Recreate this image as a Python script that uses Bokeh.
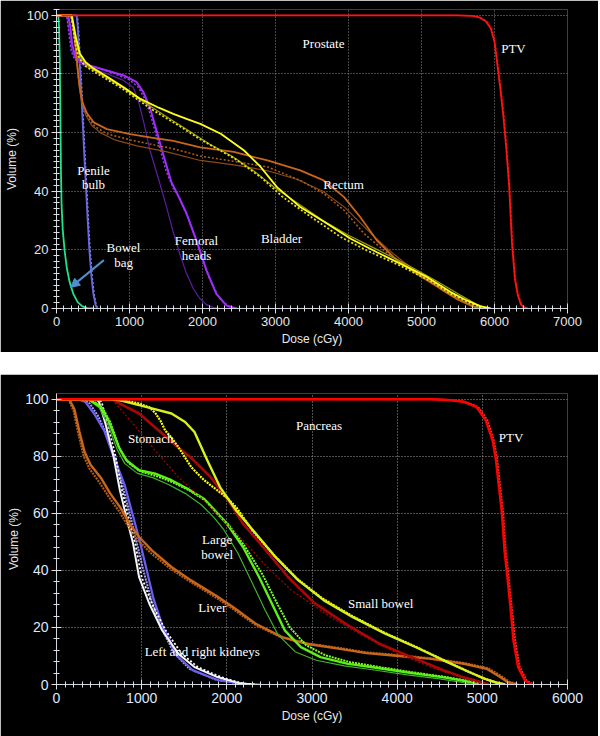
from bokeh.plotting import figure
from bokeh.layouts import column
from bokeh.models import Spacer, SingleIntervalTicker, Arrow, NormalHead, ColumnDataSource
from bokeh.core.properties import value
from bokeh.embed import file_html
from bokeh.resources import INLINE

# ---------------- Prostate plan: dose-volume histograms ----------------
prostate_x_ticks = [0, 1000, 2000, 3000, 4000, 5000, 6000, 7000]
volume_ticks = [0, 20, 40, 60, 80, 100]

bowel_bag_dose = [0, 25, 35, 45, 55, 62, 70, 85, 110, 140, 180, 230, 290, 350, 420, 520]
bowel_bag_vol = [100, 100, 96, 85, 62, 45, 35, 27, 20, 14, 9, 5, 2.2, 0.8, 0.1, 0]

penile_dose = [0, 275, 290, 308, 330, 352, 375, 400, 425, 450, 478, 505, 535, 558]
penile_vol = [100, 100, 96, 88, 78, 67, 55, 43, 31, 20, 11, 5, 1.2, 0]
penile_alt_dose = [0, 285, 300, 318, 340, 362, 385, 410, 435, 460, 488, 515, 543, 565]
penile_alt_vol = [100, 100, 96, 88, 78, 67, 55, 43, 31, 20, 11, 5, 1.2, 0]

femoral_a_dose = [0, 160, 190, 215, 260, 370, 690, 920, 1100, 1190, 1280, 1370, 1460, 1575, 1645, 1780, 1920, 2055, 2190, 2330, 2460]
femoral_a_vol = [100, 100, 96, 90, 85.7, 83.5, 81.2, 79.5, 77.2, 73.8, 68.6, 60.7, 52.7, 43, 39.6, 32.5, 23, 13, 5, 1, 0]
femoral_b_dose = [0, 140, 170, 200, 245, 320, 500, 750, 1000, 1120, 1220, 1300, 1400, 1500, 1600, 1680, 1800, 1940, 2080, 2220, 2360, 2480]
femoral_b_vol = [100, 100, 94, 88, 85, 84, 82.5, 80.5, 78, 75.5, 71, 65, 56, 47, 41, 38, 31, 21.5, 11, 3.8, 0.6, 0]
femoral_c_dose = [0, 140, 170, 210, 270, 400, 650, 900, 1050, 1120, 1200, 1280, 1400, 1510, 1600, 1690, 1780, 1870, 1960, 2050, 2150, 2250]
femoral_c_vol = [100, 100, 95, 88, 84.5, 82.5, 80.5, 78, 75.5, 71, 63, 54, 44, 34.4, 26, 18.5, 12, 7, 3.5, 1.4, 0.3, 0]

rectum_a_dose = [0, 200, 230, 260, 290, 320, 360, 420, 510, 690, 1010, 1300, 1600, 1970, 2430, 2890, 3340, 3660, 3940, 4160, 4390, 4620, 4940, 5260, 5500, 5700, 5800]
rectum_a_vol = [100, 100, 96, 90, 82, 75, 70, 66.5, 63.5, 61.2, 59.5, 58.3, 57.2, 55, 53.4, 50.5, 47.1, 43.7, 38, 31.2, 23.2, 17.5, 11.8, 6.7, 3, 0.8, 0]
rectum_b_dose = [0, 205, 235, 265, 295, 330, 380, 450, 530, 700, 1010, 1300, 1600, 1970, 2430, 2890, 3340, 3660, 3940, 4210, 4480, 4800, 5170, 5450, 5650, 5780]
rectum_b_vol = [100, 100, 95, 88, 80, 73, 68, 64.5, 62, 59.5, 57.5, 56, 54.5, 52, 50.2, 48.3, 43.7, 39.2, 33.5, 25.6, 19.9, 14.2, 8.5, 4, 1.2, 0]
rectum_c_dose = [0, 210, 240, 270, 300, 340, 400, 480, 600, 800, 1100, 1500, 1970, 2430, 2890, 3300, 3650, 3950, 4250, 4550, 4850, 5150, 5450, 5650, 5800]
rectum_c_vol = [100, 100, 94, 86, 78, 71, 66, 62.5, 60, 57.5, 55.5, 53.5, 50.5, 49, 47, 44, 40, 34.5, 27, 20, 14, 9, 4.2, 1.5, 0]

bladder_a_dose = [0, 210, 240, 270, 320, 400, 500, 700, 920, 1150, 1400, 1600, 1800, 1970, 2250, 2570, 2800, 3020, 3340, 3710, 4030, 4390, 4710, 5080, 5400, 5600, 5800, 5950]
bladder_a_vol = [100, 100, 96, 92, 87, 84, 82, 79, 75.5, 71.5, 68.5, 66.4, 64.5, 63, 59.6, 53.9, 48.2, 41.4, 34.6, 28.9, 23.8, 19.2, 15.3, 10.7, 5.6, 3, 0.8, 0]
bladder_b_dose = [0, 200, 230, 260, 300, 380, 500, 700, 900, 1100, 1300, 1500, 1700, 1950, 2200, 2450, 2800, 3100, 3500, 3900, 4250, 4700, 5150, 5400, 5650, 5850]
bladder_b_vol = [100, 100, 95, 90, 86, 83, 81, 78, 75, 71.5, 68, 65, 62, 58, 54.5, 51, 44.8, 38, 31, 24.3, 19.8, 14.7, 9, 5, 2, 0]
bladder_c_dose = [0, 205, 235, 265, 310, 390, 500, 700, 900, 1100, 1350, 1600, 1850, 2100, 2400, 2700, 3000, 3300, 3650, 4000, 4400, 4800, 5200, 5500, 5750, 5900]
bladder_c_vol = [100, 100, 95.5, 91, 86.5, 83.5, 81.5, 78.5, 75.5, 72, 68, 64, 60, 56, 52, 47, 41, 36, 30, 25, 20, 15, 9.5, 5, 1.5, 0]

ptv_p_dose = [0, 5500, 5700, 5800, 5880, 5950, 6000, 6040, 6080, 6120, 6160, 6200, 6240, 6280, 6320, 6360, 6400, 6450]
ptv_p_vol = [100, 100, 99.8, 99.2, 98, 95.5, 91, 83, 75, 66, 55, 42, 22, 10, 4.5, 1.5, 0.4, 0]
ptv_p_alt_dose = [0, 5500, 5720, 5820, 5900, 5960, 6010, 6050, 6090, 6130, 6170, 6210, 6250, 6290, 6330, 6370, 6410, 6470]
ptv_p_alt_vol = [100, 100, 99.8, 99.2, 98, 95.5, 91, 83, 75, 66, 55, 42, 22, 10, 4.5, 1.5, 0.4, 0]

# ---------------- Pancreas plan: dose-volume histograms ----------------
pancreas_x_ticks = [0, 1000, 2000, 3000, 4000, 5000, 6000]

kidney_a_dose = [0, 250, 340, 440, 560, 670, 800, 890, 980, 1060, 1140, 1250, 1420, 1600, 1900, 2200, 2400]
kidney_a_vol = [100, 100, 99, 95, 89, 80, 70, 60, 50, 40, 30, 20, 10, 5, 1.5, 0.2, 0]
kidney_b_dose = [0, 300, 390, 490, 600, 700, 790, 860, 940, 1020, 1110, 1220, 1380, 1560, 1860, 2150, 2350]
kidney_b_vol = [100, 100, 98.5, 94, 87, 78, 68, 60, 50, 40, 30, 20.5, 11, 5.5, 1.8, 0.3, 0]
kidney_c_dose = [0, 470, 500, 575, 670, 745, 820, 900, 970, 1090, 1240, 1430, 1620, 1890, 2150, 2300]
kidney_c_vol = [100, 100, 99, 91.4, 79.8, 68, 58.7, 49.3, 37.6, 28.3, 19, 10.8, 6.1, 2.6, 0.4, 0]
kidney_d_dose = [0, 500, 530, 600, 695, 770, 845, 925, 1000, 1120, 1280, 1470, 1660, 1930, 2180, 2330]
kidney_d_vol = [100, 100, 99, 91.4, 79.8, 68, 58.7, 49.3, 37.6, 28.3, 19, 10.8, 6.1, 2.6, 0.4, 0]

liver_a_dose = [0, 150, 210, 270, 330, 400, 520, 630, 750, 860, 970, 1120, 1350, 1580, 1880, 2080, 2340, 2650, 2950, 3330, 3640, 4020, 4400, 4800, 5050, 5200, 5300, 5400]
liver_a_vol = [100, 100, 96.5, 88.5, 81.5, 77, 72.5, 67, 62, 56.3, 51.7, 47, 41.2, 36.5, 31, 27, 21.3, 16.6, 14.2, 12.5, 11, 10, 9, 7.2, 5.5, 2.8, 0.8, 0]
liver_b_dose = [0, 140, 200, 260, 320, 390, 500, 620, 740, 850, 960, 1110, 1340, 1570, 1870, 2070, 2330, 2640, 2940, 3320, 3630, 4010, 4390, 4790, 5060, 5220, 5320, 5420]
liver_b_vol = [100, 100, 96, 87.5, 80, 75.5, 71, 65.5, 60.5, 55, 50.5, 46, 40.5, 36, 30.5, 26.5, 21, 16.5, 14.4, 12.8, 11.3, 10.3, 9.2, 7.5, 5.8, 3, 0.9, 0]

large_bowel_a_dose = [0, 350, 400, 520, 610, 670, 730, 820, 970, 1160, 1350, 1540, 1735, 1890, 2000, 2190, 2380, 2530, 2680, 2870, 3100, 3410, 3790, 4170, 4550, 4780, 4930, 5000]
large_bowel_a_vol = [100, 100, 99.5, 97.3, 92.6, 88, 83.3, 78.6, 75.1, 73.9, 71.6, 68.6, 65, 60, 56.4, 48.2, 37.6, 28.3, 19, 13.1, 9.6, 7.3, 5.7, 4, 2.5, 1.3, 0.4, 0]
large_bowel_b_dose = [0, 370, 430, 540, 630, 690, 750, 850, 1000, 1180, 1370, 1560, 1750, 1900, 2020, 2210, 2420, 2580, 2740, 2930, 3160, 3450, 3820, 4200, 4580, 4820, 4960, 5050]
large_bowel_b_vol = [100, 100, 99.5, 97, 92, 87, 82, 77.5, 74.5, 73, 70.8, 68, 64.5, 59.5, 56, 48.5, 38.5, 29, 20, 13.8, 10.2, 7.8, 6, 4.2, 2.6, 1.4, 0.5, 0]
large_bowel_c_dose = [0, 340, 390, 500, 590, 650, 710, 800, 950, 1130, 1320, 1510, 1700, 1850, 1960, 2130, 2300, 2450, 2600, 2800, 3050, 3380, 3750, 4120, 4500, 4750, 4900]
large_bowel_c_vol = [100, 100, 99.5, 97, 92, 87.5, 82.5, 77.5, 74, 72.5, 70, 67, 63, 58.5, 54.5, 46, 35.5, 26, 17.5, 11.5, 8.5, 6.5, 5, 3.4, 2, 0.8, 0]

stomach_a_dose = [0, 650, 710, 970, 1200, 1430, 1580, 1810, 2040, 2190, 2460, 2720, 3030, 3410, 3790, 4170, 4550, 4780, 4930, 5080]
stomach_a_vol = [100, 100, 99, 95, 89, 83, 79.5, 72.7, 63.5, 56.4, 47, 37.6, 28.5, 21, 14.3, 9.6, 4.9, 2.5, 1.3, 0]
stomach_b_dose = [0, 650, 900, 1160, 1430, 1730, 1960, 2190, 2480, 2760, 3220, 3600, 4000, 4400, 4750, 5000]
stomach_b_vol = [100, 100, 91.4, 82, 72.7, 64.5, 57.5, 50.5, 41, 33, 23.6, 17, 11, 6, 2.5, 0]

small_bowel_a_dose = [0, 650, 750, 1050, 1350, 1510, 1620, 1770, 1920, 2110, 2340, 2570, 2840, 3140, 3480, 3860, 4240, 4550, 4850, 5040, 5160, 5270]
small_bowel_a_vol = [100, 100, 99.6, 97.3, 95, 92, 88.5, 78.6, 69.2, 61, 52.9, 44.7, 36.5, 29.5, 23.6, 17.8, 12.8, 8.4, 4.3, 1.9, 0.7, 0]
small_bowel_b_dose = [0, 600, 800, 970, 1100, 1163, 1220, 1277, 1350, 1429, 1500, 1582, 1660, 1734, 1886, 2000, 2114, 2300, 2550, 2820, 3120, 3460, 3840, 4220, 4530, 4830, 5020, 5150, 5260]
small_bowel_b_vol = [100, 100, 99.5, 98.5, 97, 95, 92.5, 89, 86.5, 83.3, 80, 76.2, 73.8, 71.6, 68.1, 65.5, 62, 54, 45.5, 37.2, 30.2, 24.2, 18.3, 13.2, 8.8, 4.6, 2.1, 0.8, 0]

ptv_q_dose = [0, 4400, 4600, 4780, 4930, 5040, 5120, 5160, 5195, 5230, 5260, 5290, 5330, 5365, 5420, 5500, 5580]
ptv_q_vol = [100, 100, 99.7, 99.1, 97.3, 92.6, 85.6, 78.6, 69.2, 60, 47, 38.8, 27.1, 15.4, 6.1, 1.4, 0]
ptv_q_alt_dose = [0, 4420, 4620, 4800, 4950, 5060, 5135, 5175, 5210, 5245, 5275, 5305, 5345, 5385, 5440, 5520, 5600]
ptv_q_alt_vol = [100, 100, 99.7, 99.1, 97.3, 92.6, 85.6, 78.6, 69.2, 60, 47, 38.8, 27.1, 15.4, 6.1, 1.4, 0]

# Structure labels
prostate_labels = ["Prostate", "PTV", "Penile", "bulb", "Bowel", "bag", "Femoral", "heads", "Bladder", "Rectum"]
pancreas_labels = ["Pancreas", "PTV", "Stomach", "Large", "bowel", "Liver", "Small bowel", "Left and right kidneys"]

SANS = "Liberation Sans"
SERIF = "Liberation Serif"


def dvh_figure(width, height, x_max, borders, y_minor, tick_font, tick_color, label_font, grid_color, ylab_standoff):
    left, right, top, bottom = borders
    p = figure(width=width, height=height, x_range=(0, x_max), y_range=(0, 102),
               output_backend="svg", toolbar_location=None,
               min_border_left=left, min_border_right=right,
               min_border_top=top, min_border_bottom=bottom)
    p.background_fill_color = "black"
    p.border_fill_color = "black"
    p.outline_line_color = None
    p.xaxis.ticker = SingleIntervalTicker(interval=1000, num_minor_ticks=10)
    p.yaxis.ticker = SingleIntervalTicker(interval=20, num_minor_ticks=y_minor)
    p.xaxis.axis_label = "Dose (cGy)"
    p.yaxis.axis_label = "Volume (%)"
    for ax in (p.xaxis[0], p.yaxis[0]):
        ax.axis_line_color = "#d0d6de"
        ax.major_tick_line_color = "#e0e0e0"
        ax.minor_tick_line_color = "#e0e0e0"
        ax.major_tick_in = 5
        ax.major_tick_out = 5
        ax.minor_tick_in = 3
        ax.minor_tick_out = 3
        ax.major_label_text_font = SANS
        ax.major_label_text_font_size = tick_font
        ax.major_label_text_color = tick_color
        ax.axis_label_text_font = SANS
        ax.axis_label_text_font_size = label_font
        ax.axis_label_text_font_style = "normal"
        ax.axis_label_text_color = "#e8e8e8"
    p.xaxis.major_label_standoff = 3
    p.yaxis.major_label_standoff = 3
    p.xaxis.axis_label_standoff = 3
    p.yaxis.axis_label_standoff = ylab_standoff
    for g in (p.xgrid[0], p.ygrid[0]):
        g.grid_line_color = grid_color
        g.grid_line_dash = "1 2"
        g.grid_line_width = 1
    return p


# ---------- top panel ----------
top = dvh_figure(598, 352, 7000, (56, 31, 9, 44), 10,
                 "13px", "#e6e6e6", "12px", "#8a8a8a", 5)

top_curves = [
    (bowel_bag_dose, bowel_bag_vol, "#1fe38a", 1.8, "solid"),
    (penile_alt_dose, penile_alt_vol, "#a8a8f5", 1.4, "2 2"),
    (penile_dose, penile_vol, "#6868e6", 1.8, "solid"),
    (femoral_c_dose, femoral_c_vol, "#5a1f9e", 1.2, "solid"),
    (femoral_b_dose, femoral_b_vol, "#9b3cf0", 1.5, "2 2"),
    (femoral_a_dose, femoral_a_vol, "#a02cff", 2.0, "solid"),
    (rectum_c_dose, rectum_c_vol, "#8c4a14", 1.2, "solid"),
    (rectum_b_dose, rectum_b_vol, "#b55d1a", 1.5, "2 2"),
    (rectum_a_dose, rectum_a_vol, "#c8661c", 1.8, "solid"),
    (bladder_c_dose, bladder_c_vol, "#9c9a12", 1.2, "solid"),
    (bladder_b_dose, bladder_b_vol, "#e8e400", 1.8, "2 2"),
    (bladder_a_dose, bladder_a_vol, "#ffff1e", 1.8, "solid"),
    (ptv_p_alt_dose, ptv_p_alt_vol, "#d00000", 1.4, "2 2"),
    (ptv_p_dose, ptv_p_vol, "#ff1414", 1.8, "solid"),
]
for d, v, c, w, dash in top_curves:
    top.line(d, v, line_color=c, line_width=w, line_dash=dash)

top_label_src = ColumnDataSource(dict(
    x=[3658, 6260, 507, 507, 918, 918, 1918, 1918, 3082, 3932],
    y=[90.4, 88.7, 47.1, 42.3, 20.8, 15.7, 23.2, 18.1, 23.8, 42.3],
    text=prostate_labels))
top.text(x="x", y="y", text="text", source=top_label_src, text_font=value(SERIF),
         text_font_size="13px", text_color="white", text_align="center", text_baseline="middle")

top.add_layout(Arrow(end=NormalHead(size=9, fill_color="#4f8fcf", line_color="#4f8fcf"),
                     x_start=649, y_start=16.5, x_end=193, y_end=7.2,
                     line_color="#4f8fcf", line_width=2))

# ---------- bottom panel ----------
bottom = dvh_figure(598, 362, 6000, (48, 24, 19, 52), 5,
                    "14px", "#dfe8ff", "12px", "#a0a0a0", 1)

bottom_curves = [
    (kidney_b_dose, kidney_b_vol, "#a59cff", 2.0, "2 1"),
    (kidney_a_dose, kidney_a_vol, "#6c5ef0", 2.2, "solid"),
    (kidney_d_dose, kidney_d_vol, "#ffffff", 1.8, "2 2"),
    (kidney_c_dose, kidney_c_vol, "#f4f4ff", 2.0, "solid"),
    (liver_b_dose, liver_b_vol, "#b35a12", 2.2, "2 1"),
    (liver_a_dose, liver_a_vol, "#c8661e", 2.4, "solid"),
    (large_bowel_c_dose, large_bowel_c_vol, "#3fb32a", 1.2, "solid"),
    (large_bowel_b_dose, large_bowel_b_vol, "#80ff20", 2.0, "2 1"),
    (large_bowel_a_dose, large_bowel_a_vol, "#5cf01a", 2.4, "solid"),
    (stomach_b_dose, stomach_b_vol, "#b00000", 1.2, "2 2"),
    (stomach_a_dose, stomach_a_vol, "#a80808", 2.6, "solid"),
    (small_bowel_b_dose, small_bowel_b_vol, "#ffff00", 2.2, "2 1"),
    (small_bowel_a_dose, small_bowel_a_vol, "#d8f020", 2.4, "solid"),
    (ptv_q_alt_dose, ptv_q_alt_vol, "#ff2a2a", 2.0, "2 1"),
    (ptv_q_dose, ptv_q_vol, "#ff0000", 2.4, "solid"),
]
for d, v, c, w, dash in bottom_curves:
    bottom.line(d, v, line_color=c, line_width=w, line_dash=dash)

bottom_label_src = ColumnDataSource(dict(
    x=[3083, 5338, 1106, 1886, 1886, 1829, 3806, 1711],
    y=[90.9, 86.6, 86.2, 50.8, 45.6, 27.1, 28.3, 11.7],
    text=pancreas_labels))
bottom.text(x="x", y="y", text="text", source=bottom_label_src, text_font=value(SERIF),
            text_font_size="13px", text_color="white", text_align="center", text_baseline="middle")

layout = column(top, Spacer(width=598, height=22), bottom)

with open("out.html", "w") as f:
    f.write(file_html(layout, INLINE))
